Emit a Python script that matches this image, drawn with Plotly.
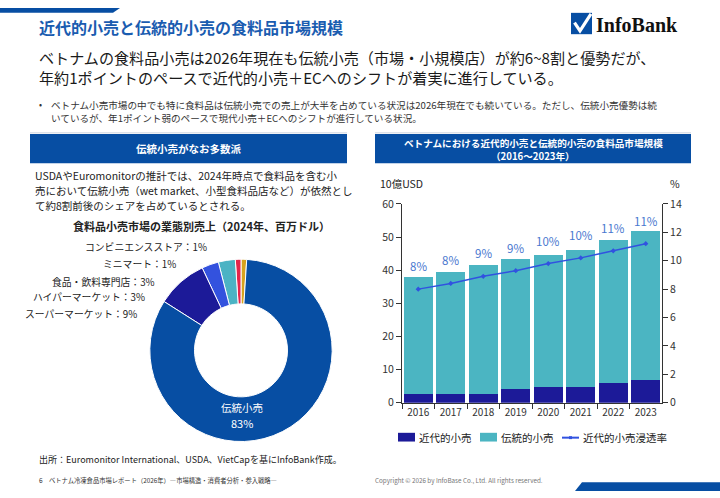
import plotly.graph_objects as go

W, H = 720, 498
FONT = "Noto Sans CJK JP"


def px(x):
    return x / W


def py(y):
    return 1 - y / H


# ---------------- data ----------------
years = ["2016", "2017", "2018", "2019", "2020", "2021", "2022", "2023"]
modern_retail = [2.7, 2.7, 2.7, 4.0, 4.9, 4.9, 6.0, 7.0]          # 10億USD
traditional_retail = [35.3, 36.8, 38.8, 39.5, 39.6, 41.1, 43.0, 44.9]  # 10億USD
modern_share = [8.0, 8.4, 8.9, 9.3, 9.8, 10.2, 10.7, 11.2]          # %

pie_labels = ["コンビニエンスストア", "ミニマート", "食品・飲料専門店",
              "ハイパーマーケット", "スーパーマーケット", "伝統小売"]
pie_values = [1, 1, 3, 3, 9, 83]
pie_colors = ["#d6a31e", "#e5264c", "#4bb3c4", "#3352de", "#1c1a98", "#074ea3"]

series_names = ["近代的小売", "伝統的小売", "近代的小売浸透率"]
NAVY = "#1c1a98"
TEAL = "#4bb5c2"
LINE = "#3152e0"
BLUE = "#074ea3"

fig = go.Figure()

# ---------------- bar chart ----------------
fig.add_trace(go.Bar(x=years, y=modern_retail, name=series_names[0],
                     marker=dict(color=NAVY, line=dict(width=0)), showlegend=False))
fig.add_trace(go.Bar(x=years, y=traditional_retail, name=series_names[1],
                     marker=dict(color=TEAL, line=dict(width=0)), showlegend=False))
fig.add_trace(go.Scatter(x=years, y=modern_share, name=series_names[2], yaxis="y2",
                         mode="lines+markers", line=dict(color=LINE, width=1.5),
                         marker=dict(size=4, color=LINE, symbol="diamond"),
                         showlegend=False))

# ---------------- donut ----------------
fig.add_trace(go.Pie(values=pie_values, labels=pie_labels, sort=False,
                     direction="counterclockwise", rotation=0, hole=0.51,
                     marker=dict(colors=pie_colors, line=dict(color="white", width=1)),
                     textinfo="none", showlegend=False,
                     domain=dict(x=[px(147), px(335)], y=[py(447), py(259)])))

axis_common = dict(showline=True, linecolor="#333", linewidth=1, ticks="outside",
                   ticklen=5, tickcolor="#333", showgrid=False, zeroline=False,
                   tickfont=dict(size=10.5, color="#333", family=FONT))

fig.update_layout(
    width=W, height=H, margin=dict(l=0, r=0, t=0, b=0),
    paper_bgcolor="white", plot_bgcolor="white",
    font=dict(family=FONT, color="#222"),
    barmode="stack", bargap=0.12,
    xaxis=dict(domain=[px(402), px(662)], type="category", range=[-0.5, 7.5],
               tickson="boundaries", anchor="y",
               **{k: v for k, v in axis_common.items() if k != "tickfont"},
               tickfont=dict(size=10, color="#333", family=FONT)),
    yaxis=dict(domain=[py(407), py(202)], range=[0, 60], dtick=10, anchor="x",
               **axis_common),
    yaxis2=dict(overlaying="y", side="right", anchor="x", range=[0, 14], dtick=2,
                **axis_common),
)

shapes = []
ann = []


def text(x, y, s, size, color="#222", anchor="left", bold=False, family=FONT, vanchor="middle"):
    ann.append(dict(xref="paper", yref="paper", x=px(x), y=py(y), text=("<b>%s</b>" % s) if bold else s,
                    showarrow=False, xanchor=anchor, yanchor=vanchor,
                    font=dict(size=size, color=color, family=family)))


def path(points, fill, line_color=None, width=0):
    d = "M " + " L ".join("%f,%f" % (px(a), py(b)) for a, b in points) + " Z"
    shapes.append(dict(type="path", xref="paper", yref="paper", path=d, fillcolor=fill,
                       line=dict(width=width, color=line_color or fill)))


def rect(x0, y0, x1, y1, fill, line_color=None, width=0):
    shapes.append(dict(type="rect", xref="paper", yref="paper", x0=px(x0), x1=px(x1),
                       y0=py(y1), y1=py(y0), fillcolor=fill,
                       line=dict(width=width, color=line_color or fill)))


def hline(x0, x1, y, color, width=1):
    shapes.append(dict(type="line", xref="paper", yref="paper", x0=px(x0), x1=px(x1),
                       y0=py(y), y1=py(y), line=dict(color=color, width=width)))


# decorative bars
path([(0, 0), (120, 0), (113, 5), (0, 5)], BLUE)
path([(582, 489), (720, 489), (720, 498), (575, 498)], BLUE)

# title and logo
text(37, 20, "近代的小売と伝統的小売の食料品市場規模", 16, color="#1a5cb0", bold=True)
rect(571, 5, 592, 27, BLUE)
shapes.append(dict(type="path", xref="paper", yref="paper",
                   path="M %f,%f L %f,%f L %f,%f" % (px(574.5), py(15), px(580), py(23.5), px(591), py(6)),
                   line=dict(color="white", width=3.2)))
text(594, 18, "InfoBank", 20, color="#111", bold=True, family="Liberation Serif")

# headline
text(37, 51, "ベトナムの食料品小売は2026年現在も伝統小売（市場・小規模店）が約6~8割と優勢だが、", 15.1, color="#1a1a1a")
text(37, 71, "年約1ポイントのペースで近代的小売＋ECへのシフトが着実に進行している。", 15.1, color="#1a1a1a")

# bullet
text(37, 100, "•", 9, color="#333")
text(49, 100, "ベトナム小売市場の中でも特に食料品は伝統小売での売上が大半を占めている状況は2026年現在でも続いている。ただし、伝統小売優勢は続", 9.6, color="#333")
text(49, 113, "いているが、年1ポイント弱のペースで現代小売＋ECへのシフトが進行している状況。", 9.6, color="#333")

# panel headers
hline(30, 347, 128.5, "#dde2ea", 1.5)
hline(375, 691, 128.5, "#dde2ea", 1.5)
rect(30, 130, 347, 160, BLUE)
rect(375, 130, 691, 160, BLUE)
text(188.5, 145, "伝統小売がなお多数派", 10.5, color="white", anchor="center", bold=True)
text(533, 139, "ベトナムにおける近代的小売と伝統的小売の食料品市場規模", 9.6, color="white", anchor="center", bold=True)
text(533, 153, "（2016～2023年）", 9.6, color="white", anchor="center", bold=True)

# left paragraph
text(33, 173, "USDAやEuromonitorの推計では、2024年時点で食料品を含む小", 10.5)
text(33, 188.5, "売において伝統小売（wet market、小型食料品店など）が依然とし", 10.5)
text(33, 204, "て約8割前後のシェアを占めているとされる。", 10.5)

# donut title and labels
text(332, 225, "食料品小売市場の業態別売上（2024年、百万ドル）", 11, anchor="right", bold=True)
label_pos = [(209, 246), (178, 264), (157, 282), (147, 298), (139, 316)]
for (lx, ly), name, val in zip(label_pos, pie_labels[:5], pie_values[:5]):
    text(lx, ly, "%s：%d%%" % (name, val), 9.8, anchor="right")
text(242, 412, pie_labels[5], 10.5, color="white", anchor="center")
text(242, 428, "%d%%" % pie_values[5], 11, color="white", anchor="center")

# bar chart axis titles
text(378, 181, "10億USD", 10.5, color="#222")
text(668, 181, "%", 10.5, color="#222")

# penetration-rate labels (above each point)
for i, v in enumerate(modern_share):
    ann.append(dict(xref="x", yref="y2", x=i, y=v, yshift=23, showarrow=False,
                    xanchor="center", yanchor="middle",
                    text="%d%%" % round(v), font=dict(size=11.5, color="#4a78cf", family=FONT)))

# manual legend
rect(398, 438, 415, 447, NAVY)
text(417, 443, series_names[0], 10.5)
rect(480, 438, 497, 447, TEAL)
text(499, 443, series_names[1], 10.5)
hline(562, 579, 443, LINE, 2)
rect(569, 441.5, 572, 444.5, LINE)
text(581, 443, series_names[2], 10.5)

# source and footer
text(37, 466, "出所：Euromonitor International、USDA、VietCapを基にInfoBank作成。", 9, color="#222")
text(37, 487, "6", 6.5, color="#333")
text(47, 487, "ベトナム冷凍食品市場レポート（2026年）―市場構造・消費者分析・参入戦略―", 6.3, color="#333")
text(373, 487, "Copyright © 2026 by InfoBase Co., Ltd. All rights reserved.", 6.3, color="#777")

fig.update_layout(shapes=shapes, annotations=ann)
fig.write_html("out.html")
